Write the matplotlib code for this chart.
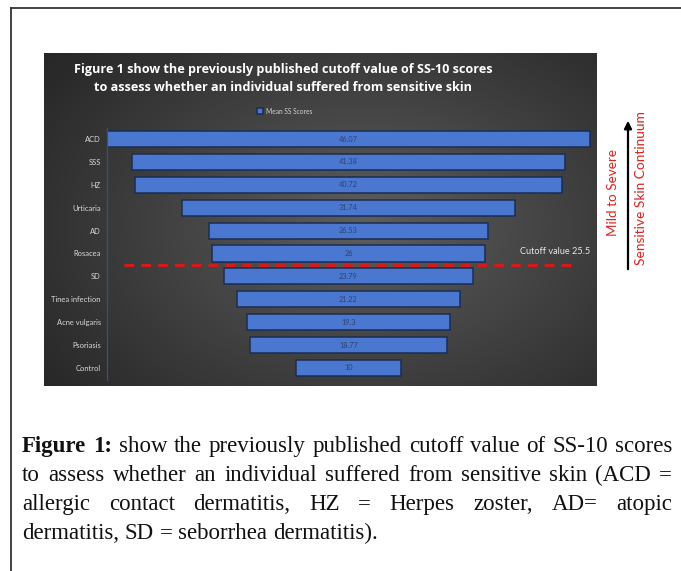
import numpy as np
import matplotlib
matplotlib.use("Agg")
import matplotlib.pyplot as plt
from matplotlib.lines import Line2D
from matplotlib.patches import FancyArrowPatch

# ---- data ----
categories = ["ACD", "SSS", "HZ", "Urticaria", "AD", "Rosacea", "SD",
              "Tinea infection", "Acne vulgaris", "Psoriasis", "Control"]
mean_scores = [46.07, 41.38, 40.72, 31.74, 26.53, 26, 23.79, 21.22, 19.3, 18.77, 10]
score_labels = ["46.07", "41.38", "40.72", "31.74", "26.53", "26", "23.79",
                "21.22", "19.3", "18.77", "10"]
cutoff_value = 25.5
series_name = "Mean SS Scores"
title_lines = ["Figure 1 show the previously published cutoff value of SS-10 scores",
               "to assess whether an individual suffered from sensitive skin"]
caption_lines = [
    "Figure 1: show the previously published cutoff value of SS-10 scores",
    "to assess whether an individual suffered from sensitive skin (ACD =",
    "allergic contact dermatitis, HZ = Herpes zoster, AD= atopic",
    "dermatitis, SD = seborrhea dermatitis).",
]

# ---- figure ----
W, H = 681, 571
fig = plt.figure(figsize=(W / 100, H / 100), dpi=100)
fig.patch.set_facecolor("white")


def box(x0, y0, x1, y1):
    """pixel box (top-left origin) -> figure fraction rect"""
    return [x0 / W, 1 - y1 / H, (x1 - x0) / W, (y1 - y0) / H]


def fx(px):
    return px / W


def fy(py):
    return 1 - py / H


# outer frame (top and left edges)
fig.add_artist(Line2D([fx(11), fx(11)], [fy(8), 0], color="#333333", lw=1.3))
fig.add_artist(Line2D([fx(11), 1], [fy(8), fy(8)], color="#333333", lw=1.3))

# dark panel with radial gradient
bg = fig.add_axes(box(44, 53, 597, 386))
bg.set_axis_off()
ny, nx = 200, 330
yy, xx = np.mgrid[0:1:ny * 1j, 0:1:nx * 1j]
r = np.sqrt(((xx - 0.58) / 0.75) ** 2 + ((yy - 0.52) / 0.85) ** 2)
f = np.clip(1 - r, 0, 1) ** 1.1
dark, light = 0.15, 0.37
g = dark + (light - dark) * f
img = np.dstack([g, g, g])
bg.imshow(img, extent=[0, 1, 0, 1], aspect="auto", interpolation="bilinear")
for s in bg.spines.values():
    s.set_visible(False)

# bar axes
px_per_unit = 10.48
center_px = 348.5
ax_x0, ax_x1 = 107, 596
row0_px, row_step = 139, 22.9
ax_y0, ax_y1 = 128, 380
ax = fig.add_axes(box(ax_x0, ax_y0, ax_x1, ax_y1))
ax.patch.set_alpha(0)
ax.set_xlim((ax_x0 - center_px) / px_per_unit, (ax_x1 - center_px) / px_per_unit)
ax.set_ylim((ax_y1 - row0_px) / row_step, (ax_y0 - row0_px) / row_step)

vals = np.array(mean_scores)
ypos = np.arange(len(categories))
bars = ax.barh(ypos, vals, left=-vals / 2, height=0.7, color="#4a78d0",
               edgecolor="#1b2d52", linewidth=1.1, label=series_name)

for y, lab in zip(ypos, score_labels):
    ax.text(0, y, lab, ha="center", va="center", fontsize=5.3,
            color="#2f4270", family="Lato")

ax.set_xticks([])
ax.set_yticks(ypos)
ax.set_yticklabels(categories, fontsize=5.4, color="#d9d9d9", family="Lato")
ax.tick_params(axis="y", length=0, pad=4.5)
for k in ("top", "right", "bottom"):
    ax.spines[k].set_visible(False)
ax.spines["left"].set_color("#34527f")
ax.spines["left"].set_linewidth(0.9)

# cutoff line between the Rosacea and SD rows
cut_row = 5.5
ax.plot([(124 - center_px) / px_per_unit, (575 - center_px) / px_per_unit],
        [cut_row, cut_row], color="#d41a1a", lw=2.2,
        linestyle=(0, (3.2, 2.3)), solid_capstyle="butt")
ax.text((590 - center_px) / px_per_unit, (252 - row0_px) / row_step,
        f"Cutoff value {cutoff_value}", ha="right", va="center",
        fontsize=6.6, color="#e8e8e8", family="Lato")

# title
for i, line in enumerate(title_lines):
    fig.text(fx(283), fy(69 + 18.5 * i), line, ha="center", va="center",
             color="white", fontsize=9.1, fontweight="bold", family="Open Sans")

# legend
fig.legend(handles=[bars], labels=[series_name], loc="center",
           bbox_to_anchor=(fx(285), fy(111)), frameon=False,
           labelcolor="#d0d0d0", handlelength=0.8, handleheight=1.0,
           handletextpad=0.5, prop={"family": "Lato", "size": 4.8})

# continuum arrow and labels
fig.add_artist(FancyArrowPatch((fx(628), fy(272)), (fx(628), fy(118)),
                               transform=fig.transFigure, arrowstyle="-|>",
                               mutation_scale=11, lw=1.6, color="black"))
fig.text(fx(613), fy(192), "Mild to Severe", rotation=90, ha="center",
         va="center", color="#e3201c", fontsize=9.7, family="Lato")
fig.text(fx(641), fy(188.5), "Sensitive Skin Continuum", rotation=90,
         ha="center", va="center", color="#e3201c", fontsize=9.9, family="Lato")

# caption, justified between left and right margins
renderer = fig.canvas.get_renderer()
cap_left, cap_right = 22, 672
baselines = [452, 481, 510, 539]
cap_size = 16.5
cap_family = "Liberation Serif"


def word_width(word, bold):
    t = fig.text(0, 0, word, fontsize=cap_size, family=cap_family,
                 fontweight="bold" if bold else "normal")
    w = t.get_window_extent(renderer).width
    t.remove()
    return w


space_w = word_width("a a", False) - 2 * word_width("a", False)
for li, line in enumerate(caption_lines):
    words = line.split(" ")
    bold_flags = [li == 0 and wi < 2 for wi in range(len(words))]
    widths = [word_width(w, b) for w, b in zip(words, bold_flags)]
    justify = li < len(caption_lines) - 1
    if justify and len(words) > 1:
        gap = (cap_right - cap_left - sum(widths)) / (len(words) - 1)
    else:
        gap = space_w
    x = cap_left
    for w, b, wd in zip(words, bold_flags, widths):
        fig.text(fx(x), fy(baselines[li]), w, ha="left", va="baseline",
                 fontsize=cap_size, family=cap_family, color="#111111",
                 fontweight="bold" if b else "normal")
        x += wd + gap

fig.savefig("out.png", dpi=100)
